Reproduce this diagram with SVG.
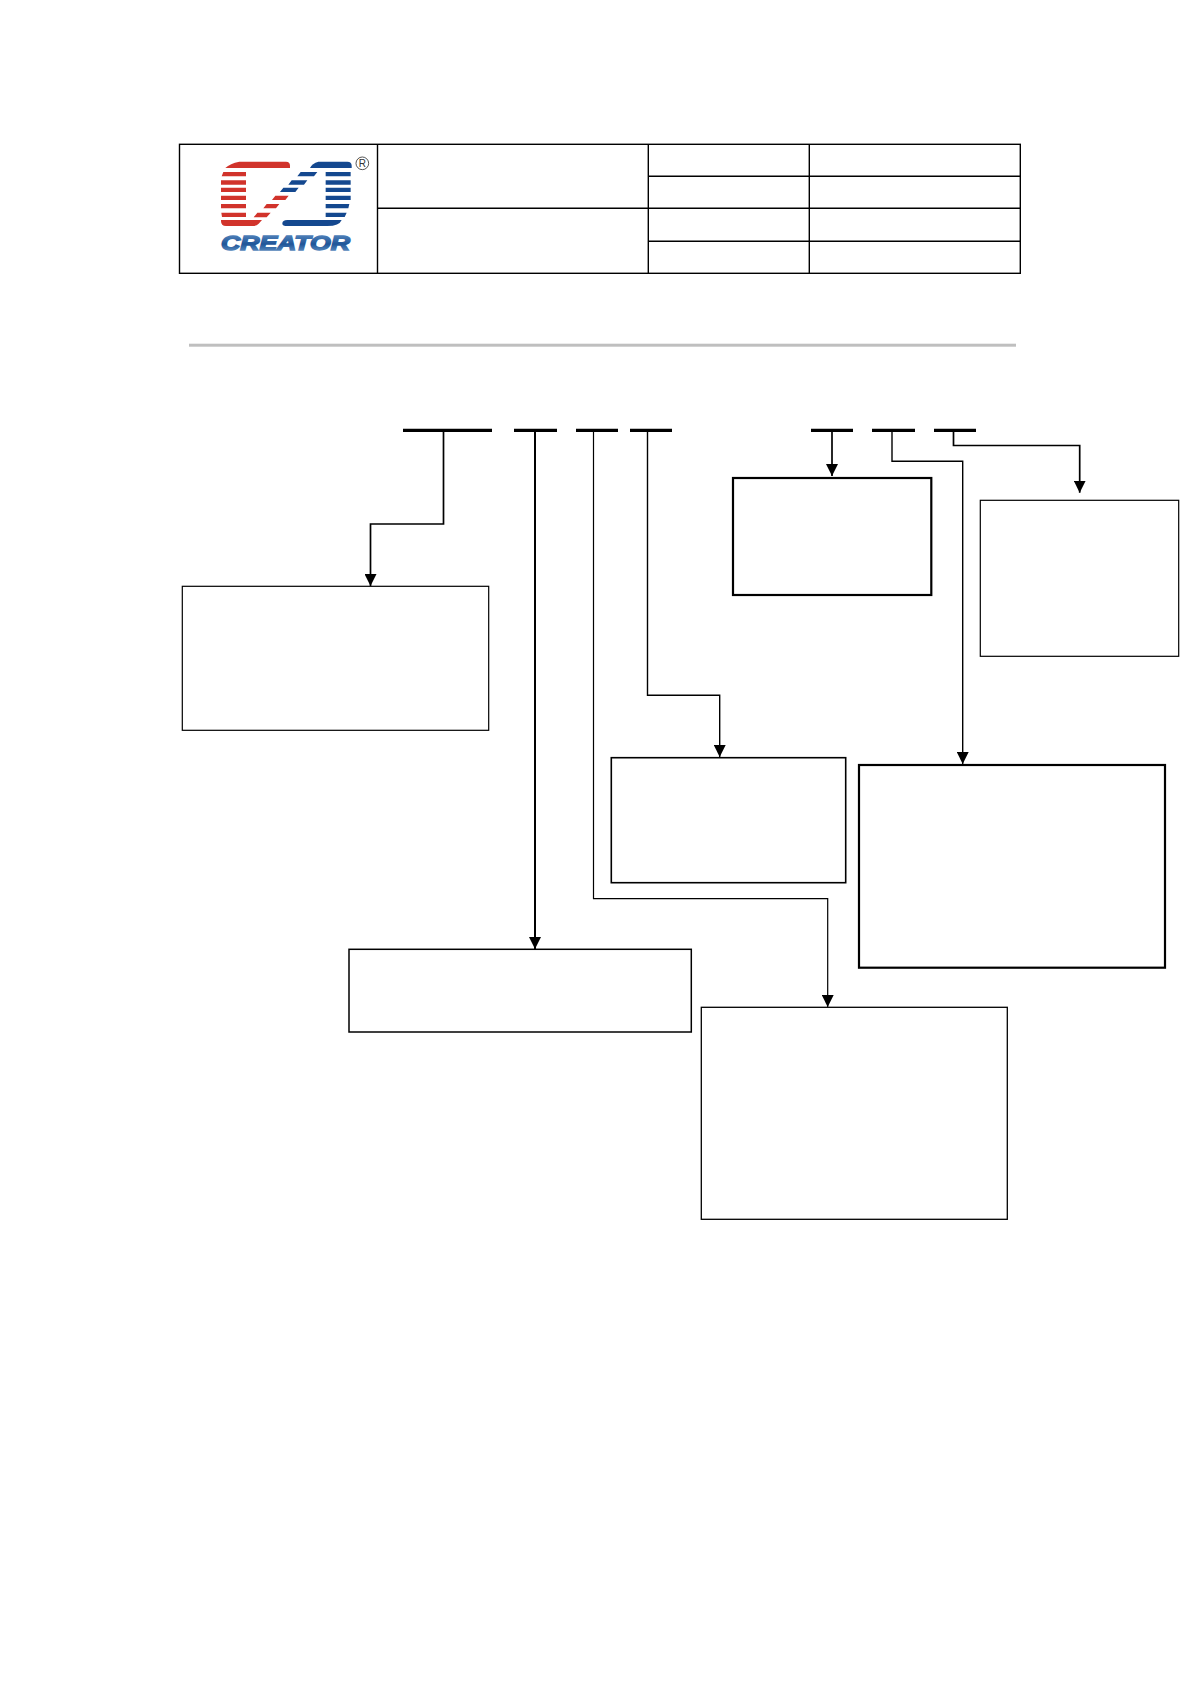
<svg xmlns="http://www.w3.org/2000/svg" width="1190" height="1684" viewBox="0 0 1190 1684">
<style>
.t{fill:none;stroke:#000;stroke-width:1.4}
.bar{stroke:#000;stroke-width:3.2;fill:none}
.c{fill:none;stroke:#000;stroke-linejoin:miter}
.box{fill:#fff;stroke:#000}
.r{fill:#d1332b}
.b{fill:#14488f}
</style>
<defs>
<marker id="arrow" markerUnits="userSpaceOnUse" markerWidth="12" markerHeight="12" refX="12" refY="6" orient="auto" viewBox="0 0 12 12"><path d="M0 0L12 6L0 12Z" fill="#000"/></marker>
<linearGradient id="lg" x1="0" y1="0" x2="0" y2="1"><stop offset="0" stop-color="#5f8fc4"/><stop offset=".55" stop-color="#1f5598"/><stop offset="1" stop-color="#6f9dcc"/></linearGradient>
</defs>
<rect width="1190" height="1684" fill="#fff"/>
<g id="header-table">
<rect class="t" x="179.5" y="144.3" width="840.8" height="129"/>
<path class="t" d="M377.5 144.3V273.3M648.3 144.3V273.3M809.3 144.3V273.3M377.5 208.3H1020.3M648.3 176.3H1020.3M648.3 241.3H1020.3"/>
</g>
<g id="logo" transform="translate(210 155) scale(.33333)">
<path class="r" d="M46 39Q60 25 88 20H228Q240 20 240 32V39Z"/>
<path class="r" d="M40 51H108V64H35ZM33 76H108V89H33ZM33 98H108V111H33ZM33 122H108V135H33ZM33 147H108V160H33ZM34 173H108V186H36Z"/>
<path class="r" d="M33 195H156L146 206Q140 213 128 213H48Q33 213 33 198Z"/>
<path class="r" d="M196 122H236L226 135H186ZM170 147H208L198 160H160ZM142 173H182L170 187H131Z"/>
<path class="b" d="M272 51H322L312 64H262ZM245 76H292L282 89H235ZM220 98H266L256 111H210Z"/>
<path class="b" d="M300 39Q306 25 325 20H412Q425 20 425 32V39Z"/>
<path class="b" d="M347 51H422V64H347ZM347 76H422V89H347ZM347 98H422V111H347ZM347 122H422V135H347ZM347 147H418L415 160H347ZM347 173H410L404 186H347Z"/>
<path class="b" d="M217 206Q217 195 232 195H395Q388 213 352 213H232Q217 213 217 206Z"/>
<text x="33" y="285" font-family="'Liberation Sans',sans-serif" font-weight="700" font-style="italic" font-size="60" textLength="387" lengthAdjust="spacingAndGlyphs" fill="url(#lg)" stroke="url(#lg)" stroke-width="4">CREATOR</text>
<circle cx="457" cy="25" r="19" fill="none" stroke="#333" stroke-width="2.5"/>
<text x="457" y="36" text-anchor="middle" font-family="'Liberation Sans',sans-serif" font-size="30" fill="#333">R</text>
</g>
<rect id="rule" x="189" y="343.7" width="827" height="3" fill="#bfbfbf"/>
<g id="connectors">
<path class="c" stroke-width="1.7" d="M443.5 430V524H370.5V586" marker-end="url(#arrow)"/>
<path class="c" stroke-width="2" d="M535 430V949" marker-end="url(#arrow)"/>
<path class="c" stroke-width="1.2" d="M593.5 430V898.7H827.7V1007" marker-end="url(#arrow)"/>
<path class="c" stroke-width="1.4" d="M647.5 430V695.3H719.7V757" marker-end="url(#arrow)"/>
<path class="c" stroke-width="1.7" d="M832 430V476" marker-end="url(#arrow)"/>
<path class="c" stroke-width="1.4" d="M892 430V461.3H962.7V764" marker-end="url(#arrow)"/>
<path class="c" stroke-width="1.7" d="M953.5 430V445.5H1079.7V492.7" marker-end="url(#arrow)"/>
</g>
<g id="code-bars">
<path class="bar" d="M403 430.3H492M514 430.3H557M576 430.3H618M630 430.3H672M811 430.3H853M872 430.3H915M934 430.3H976"/>
</g>
<g id="box-1"><rect class="box" stroke-width="1.2" x="182.3" y="586.3" width="306.4" height="144"/></g>
<g id="box-2"><rect class="box" stroke-width="1.5" x="349" y="949.3" width="342.3" height="82.7"/></g>
<g id="box-3"><rect class="box" stroke-width="1.3" x="701.3" y="1007.3" width="306" height="212"/></g>
<g id="box-4"><rect class="box" stroke-width="1.6" x="611.3" y="757.7" width="234.4" height="125"/></g>
<g id="box-5"><rect class="box" stroke-width="2.2" x="733" y="478" width="198.3" height="117"/></g>
<g id="box-6"><rect class="box" stroke-width="2.2" x="859" y="765" width="306" height="202.7"/></g>
<g id="box-7"><rect class="box" stroke-width="1.2" x="980.3" y="500.3" width="198.4" height="156"/></g>
</svg>
